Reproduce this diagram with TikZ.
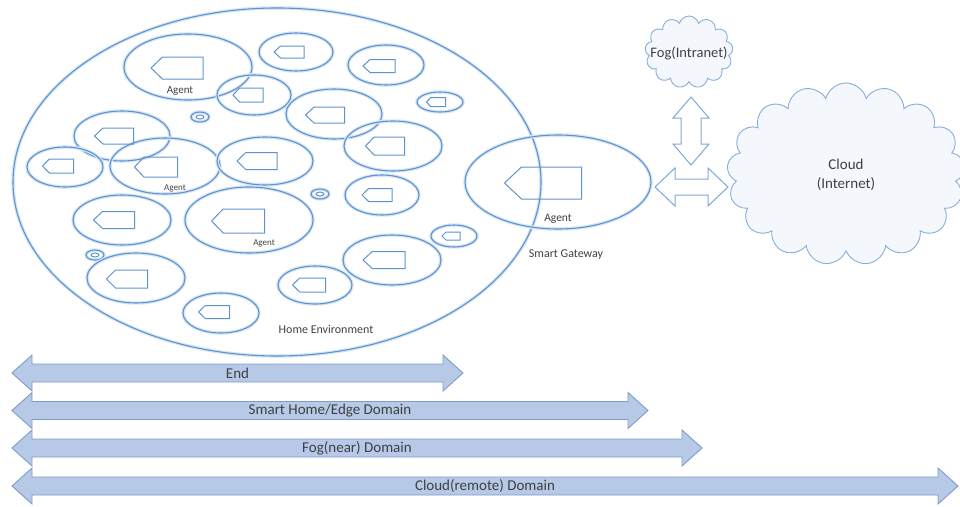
\documentclass[tikz,border=0pt]{standalone}
\usepackage{fontspec}
\setmainfont{Carlito}
\usetikzlibrary{shapes.symbols}
\definecolor{eblue}{HTML}{5E93CC}
\definecolor{eglow}{HTML}{D6E6F7}
\definecolor{afill}{HTML}{B6C9E6}
\definecolor{aline}{HTML}{7F9CC8}
\definecolor{txt}{HTML}{404040}
\definecolor{cfill}{HTML}{F4F8FD}
\tikzset{
  ell/.style={draw=eblue, line width=1.1pt, preaction={draw=eglow, line width=3.5pt}},
  icon/.style={draw=eblue, line width=1pt, line join=miter},
  lbl/.style={text=txt, inner sep=0pt},
  domarrow/.style={fill=afill, draw=aline, line width=0.9pt},
  outarrow/.style={fill=white, draw=eblue!80, line width=1pt},
  cloudbox/.style={cloud, draw=eblue!75, fill=cfill, line width=0.9pt, inner sep=0pt}
}
\newcommand\agico[4]{%
  \draw[icon] ({#1-#3/2},#2) -- ({#1-#3/2+0.22*#3},{#2-#4/2}) -- ({#1+#3/2},{#2-#4/2})
   -- ({#1+#3/2},{#2+#4/2}) -- ({#1-#3/2+0.22*#3},{#2+#4/2}) -- cycle;}
\newcommand\ellp[4]{\draw[ell] (#1,#2) ellipse [x radius=#3pt, y radius=#4pt];}
\newcommand\dotell[2]{\draw[ell] (#1,#2) ellipse [x radius=9pt, y radius=5pt];
  \draw[icon] (#1,#2) ellipse [x radius=4pt, y radius=2pt];}
% style, x1, x2, yc, shaft half, head half, head length
\newcommand\hdarrow[7]{%
  \path[#1] (#2,#4) -- ({#2+#7},{#4-#6}) -- ({#2+#7},{#4-#5}) -- ({#3-#7},{#4-#5})
   -- ({#3-#7},{#4-#6}) -- (#3,#4) -- ({#3-#7},{#4+#6}) -- ({#3-#7},{#4+#5})
   -- ({#2+#7},{#4+#5}) -- ({#2+#7},{#4+#6}) -- cycle;}
% style, y1, y2, xc, shaft half, head half, head length
\newcommand\vdarrow[7]{%
  \path[#1] (#4,#2) -- ({#4-#6},{#2+#7}) -- ({#4-#5},{#2+#7}) -- ({#4-#5},{#3-#7})
   -- ({#4-#6},{#3-#7}) -- (#4,#3) -- ({#4+#6},{#3-#7}) -- ({#4+#5},{#3-#7})
   -- ({#4+#5},{#2+#7}) -- ({#4+#6},{#2+#7}) -- cycle;}
\begin{document}
\begin{tikzpicture}[x=1pt,y=-1pt]
\useasboundingbox (0,0) rectangle (960,506);
% big home ellipse
\draw[ell] (277,182) ellipse [x radius=264pt, y radius=174pt];
% agent ellipses
\ellp{188}{67}{64}{33}
\ellp{296}{52}{37}{19}
\ellp{386}{65}{38}{20}
\ellp{254}{95}{37}{20}
\dotell{200}{117}
\ellp{334}{114}{48}{25}
\ellp{440}{102}{23}{10}
\ellp{122}{136}{48}{25}
\ellp{393}{146}{49}{25}
\ellp{65}{167}{38}{20}
\ellp{165}{166}{55}{28}
\ellp{265}{161}{48}{24}
\ellp{382}{195}{37}{20}
\ellp{558}{182}{93}{47}
\dotell{320}{194}
\ellp{122}{220}{49}{25}
\ellp{249}{220}{64}{33}
\ellp{454}{236}{23}{11}
\dotell{95}{255}
\ellp{392}{260}{49}{25}
\ellp{136}{278}{49}{25}
\ellp{315}{285}{37}{19}
\ellp{221}{313}{38}{20}
% agent icons
\agico{177}{68}{52}{22}
\agico{289}{52}{30}{12}
\agico{379}{66}{32}{13}
\agico{248}{95}{30}{14}
\agico{325}{115}{39}{16}
\agico{436}{102}{19}{9}
\agico{114}{136}{39}{16}
\agico{385}{146}{39}{18}
\agico{58}{166}{31}{14}
\agico{156}{167}{43}{20}
\agico{257}{161}{40}{17}
\agico{377}{195}{30}{13}
\agico{543}{183}{77}{32}
\agico{114}{220}{41}{17}
\agico{238}{221}{53}{24}
\agico{451}{236}{18}{8}
\agico{384}{260}{42}{17}
\agico{127}{279}{41}{18}
\agico{309}{285}{33}{14}
\agico{214}{312}{31}{13}
% labels
\node[lbl, font=\fontsize{11}{13}\selectfont] (ag1) at (180,91) {Agent};
\node[lbl, font=\fontsize{9}{11}\selectfont] (ag2) at (175,188) {Agent};
\node[lbl, font=\fontsize{9}{11}\selectfont] (ag3) at (264,243) {Agent};
\node[lbl, font=\fontsize{11.5}{13}\selectfont] (ag4) at (558,219) {Agent};
\node[lbl, font=\fontsize{12}{14}\selectfont] (sg) at (566,255) {Smart Gateway};
\node[lbl, font=\fontsize{12}{14}\selectfont] (he) at (326,329) {Home Environment};
% clouds
\node[cloudbox, cloud puffs=13, minimum width=88pt, minimum height=72pt] (fog) at (689,52) {};
\node[lbl, font=\fontsize{14.5}{17}\selectfont] (fogt) at (689,53) {Fog(Intranet)};
\node[cloudbox, cloud puffs=17, minimum width=238pt, minimum height=182pt] (cloud) at (846,174) {};
\node[lbl, font=\fontsize{15}{19}\selectfont, align=center] (cloudt) at (846,175) {Cloud\\(Internet)};
% connecting double arrows
\vdarrow{outarrow}{97}{165}{691}{10}{18}{21}
\hdarrow{outarrow}{655}{728}{187}{8}{19}{20}
% domain arrows
\hdarrow{domarrow}{12}{463}{373}{9}{18}{20}
\hdarrow{domarrow}{12}{648}{410.5}{9}{18}{20}
\hdarrow{domarrow}{12}{702}{448}{9}{18}{20}
\hdarrow{domarrow}{12}{958}{486}{9}{18}{20}
\node[lbl, font=\fontsize{15}{17}\selectfont] (d1) at (237.5,373) {End};
\node[lbl, font=\fontsize{15}{17}\selectfont] (d2) at (330,410.5) {Smart Home/Edge Domain};
\node[lbl, font=\fontsize{15}{17}\selectfont] (d3) at (357,448) {Fog(near) Domain};
\node[lbl, font=\fontsize{15}{17}\selectfont] (d4) at (485,486) {Cloud(remote) Domain};
\end{tikzpicture}
\end{document}
